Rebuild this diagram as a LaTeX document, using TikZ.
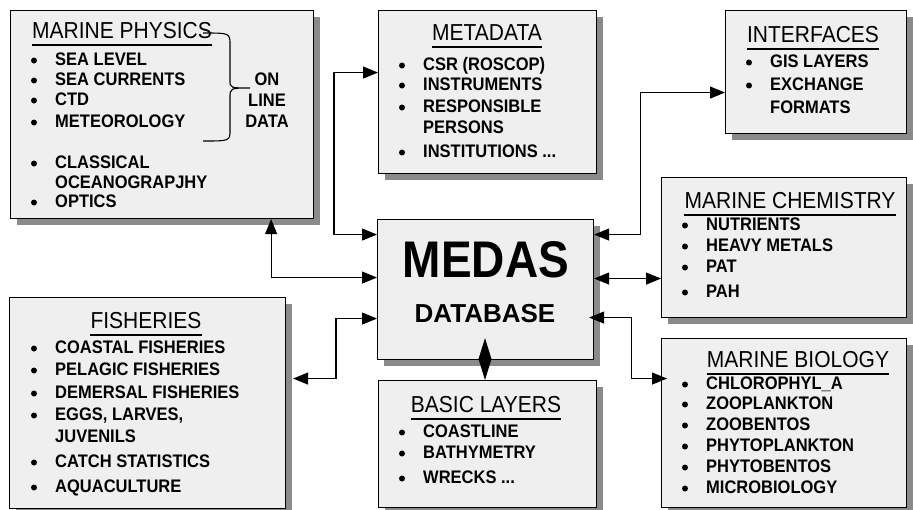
\documentclass[tikz,border=0pt]{standalone}
\usepackage{fontspec}
\setmainfont{Liberation Sans}
\usepackage{graphicx}
\usepackage{tikz}
\usetikzlibrary{shadows}
\usetikzlibrary{arrows.meta}
\usetikzlibrary{positioning,calc}

\definecolor{boxfill}{HTML}{EFEFEF}
\definecolor{boxshade}{HTML}{8A8A8A}
\newcommand{\etcdots}{...}
\newcommand{\tall}[1]{\scalebox{1}[1.1]{#1}}

\begin{document}
\begin{tikzpicture}[x=1pt, y=-1pt,
        panel/.style={draw, line width=1.1pt, fill=boxfill, inner sep=0pt, anchor=north west,
            drop shadow={shadow xshift=6pt, shadow yshift=-6pt, fill=boxshade, opacity=1}},
        head/.style={inner sep=0pt, anchor=base, font=\fontsize{21}{24}\selectfont},
        item/.style={inner sep=0pt, anchor=base west, font=\fontsize{16.5}{19}\selectfont\bfseries},
        link/.style={line width=1.1pt, >={Triangle[length=15pt,width=12pt]}, <->}]
        \useasboundingbox (0,0) rectangle (913,509);
        % boxes
        \foreach \name/\x/\y/\w/\h in {phys/10/10/303/208, meta/378/10/218/163, intf/725/10/181/123,
            chem/661/177/245/140, bio/661/338/245/169, medas/377/219/216/140,
            basic/378/380/218/127, fish/9/297/276/211}
        {
        \node[panel, minimum width=\w pt, minimum height=\h pt] (\name) at (\x,\y) {};
        }
        % headings
        \foreach \name/\x/\y/\t in {phys/122/38/MARINE PHYSICS, meta/487/40/METADATA,
            intf/813/42/INTERFACES, chem/790/208/MARINE CHEMISTRY, bio/798/367/MARINE BIOLOGY,
            fish/146/328/FISHERIES, basic/486/412/BASIC LAYERS}
        {
        \node[head] (\name-head) at (\x,\y) {\tall{\t}};
        \draw[line width=2pt] ([yshift=-7pt]\name-head.base west) -- ([yshift=-7pt]\name-head.base east);
        }
        % items
        \foreach \name/\x/\list in {
            phys/55/{65/SEA LEVEL/1, 85/SEA CURRENTS/1, 105/CTD/1, 127/METEOROLOGY/1,
                168/CLASSICAL/1, 188/OCEANOGRAPJHY/0, 207/OPTICS/1},
            meta/423/{70/CSR (ROSCOP)/1, 90/INSTRUMENTS/1, 112/RESPONSIBLE/1, 133/PERSONS/0,
                157/INSTITUTIONS \etcdots/1},
            intf/770/{67/GIS LAYERS/1, 90/EXCHANGE/1, 113/FORMATS/0},
            chem/706/{230/NUTRIENTS/1, 251/HEAVY METALS/1, 272/PAT/1, 297/PAH/1},
            bio/706/{389/CHLOROPHYL\_A/1, 409/ZOOPLANKTON/1, 430/ZOOBENTOS/1,
                451/PHYTOPLANKTON/1, 472/PHYTOBENTOS/1, 493/MICROBIOLOGY/1},
            fish/55/{353/COASTAL FISHERIES/1, 375/PELAGIC FISHERIES/1, 398/DEMERSAL FISHERIES/1,
                420/{EGGS, LARVES,}/1, 442/JUVENILS/0, 467/CATCH STATISTICS/1, 492/AQUACULTURE/1},
            basic/423/{437/COASTLINE/1, 458/BATHYMETRY/1, 483/WRECKS \etcdots/1}}
        {
        \foreach[count=\i] \y/\t/\b in \list
        {
            \node[item] (\name-\i) at (\x,\y) {\tall{\t}};
            \ifnum\b=1
            \fill ([xshift=-21pt,yshift=4.5pt]\name-\i.base west) circle (3);
            \fi
        }
        }
        % on line data
        \draw[line width=1.1pt] (203,33) .. controls (230,33) .. (230,45) -- (230,80)
            .. controls (230,88) .. (250,88) .. controls (230,88) .. (230,98) -- (230,130)
            .. controls (230,141) .. (203,141);
        \node[inner sep=0pt, align=center, font=\fontsize{16.5}{21}\selectfont\bfseries]
            (online) at (267,100) {\tall{ON}\\\tall{LINE}\\\tall{DATA}};
        % centre
        \node[inner sep=0pt, anchor=base, font=\fontsize{46}{50}\selectfont\bfseries]
            (medas-title) at (486,277) {\scalebox{1}[1.12]{MEDAS}};
        \node[inner sep=0pt, anchor=base, font=\fontsize{26}{30}\selectfont\bfseries]
            (medas-sub) at (485,322) {DATABASE};
        % connectors
        \draw[link] ([xshift=-43pt]phys.south east) |- ([yshift=12pt]medas.west);
        \draw[link] ([yshift=19.5pt]meta.west) -- ++(-44,0) |- ([yshift=55pt]medas.west);
        \draw[link, shorten >=7pt] ([yshift=-29pt]medas.west) -- ++(-41,0) |- ([yshift=24.5pt]fish.east);
        \draw[link] ([yshift=55pt]medas.east) -- ++(46,0) |- ([yshift=-20.5pt]intf.west);
        \draw[link] ([yshift=11pt]medas.east) -- ([yshift=11pt]medas.east -| chem.west);
        \draw[link, shorten <=-5pt, shorten >=-6pt] ([yshift=-28pt]medas.east) -- ++(37,0)
            |- ([yshift=44.5pt]bio.west);
        \draw[link, >={Triangle[length=21.5pt,width=13pt]}, shorten >=-22pt] (basic.north -| medas-sub) -- (medas.south -| medas-sub);
\end{tikzpicture}
\end{document}
